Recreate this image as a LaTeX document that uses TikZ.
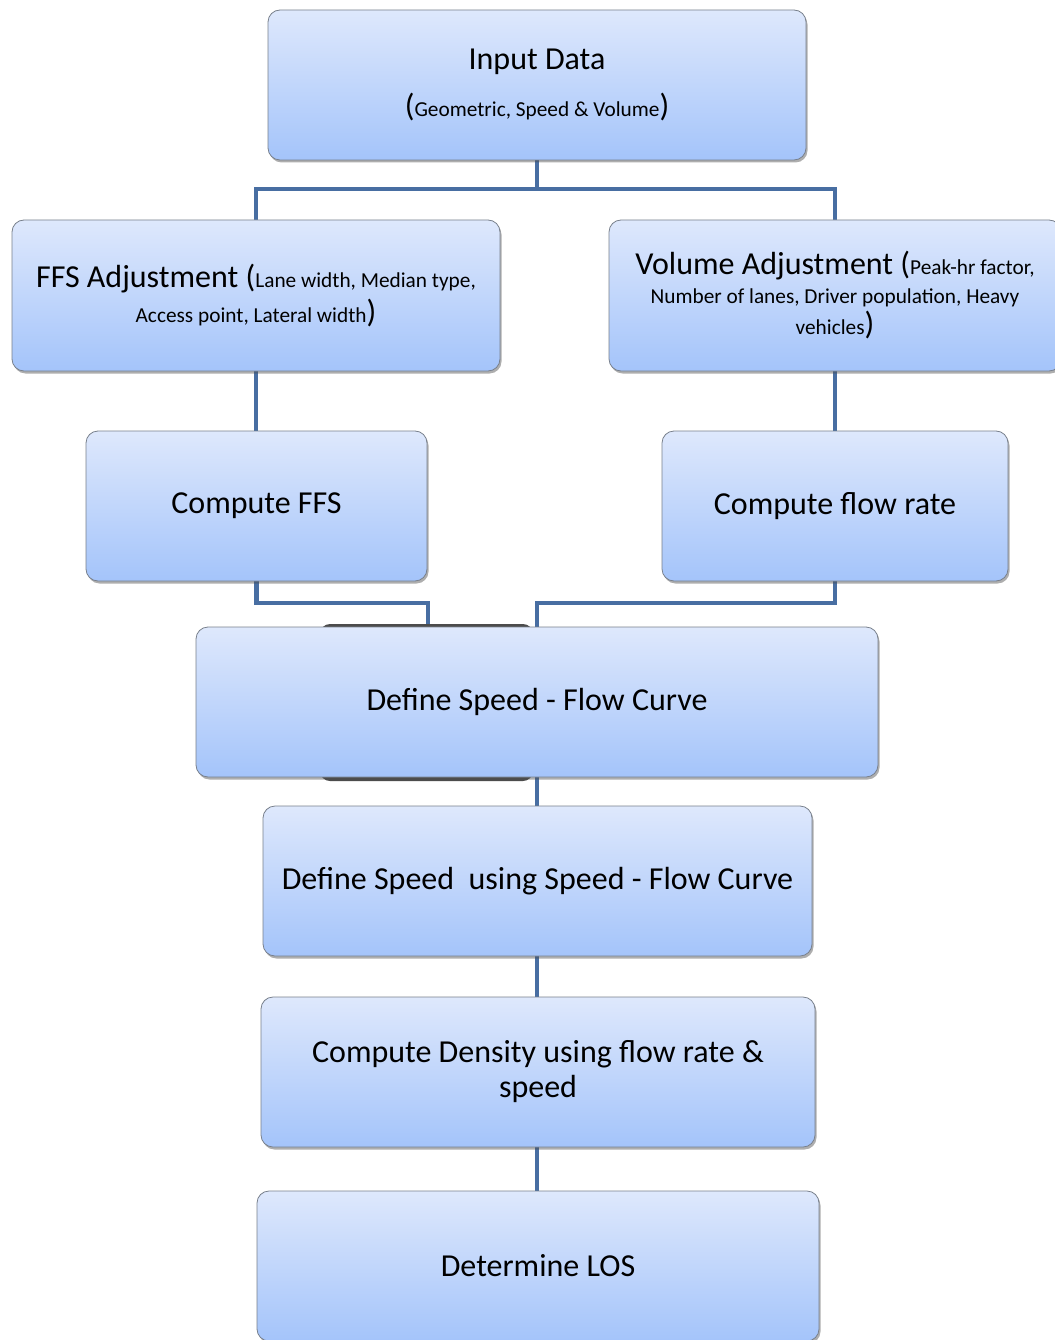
\documentclass[tikz,border=0pt]{standalone}
\usepackage{fontspec}
\setmainfont{Carlito}
\usetikzlibrary{shadows,backgrounds}
\definecolor{boxtop}{RGB}{222,232,252}
\definecolor{boxbot}{RGB}{164,196,250}
\definecolor{boxedge}{RGB}{120,128,140}
\definecolor{conncol}{RGB}{72,110,162}
\newcommand\BigTxt[1]{{\fontsize{32}{30}\selectfont #1}}
\tikzset{
  flowbox/.style={rectangle, rounded corners=12pt, draw=boxedge, line width=0.8pt,
    top color=boxtop, bottom color=boxbot, align=center, inner sep=0pt,
    font=\fontsize{32}{35}\selectfont,
    drop shadow={shadow xshift=1.5pt, shadow yshift=-2.5pt, opacity=0.45, fill=black!70}},
  smalltxt/.style={font=\fontsize{21.3}{30}\selectfont},
  conn/.style={draw=conncol, line width=4.5pt}
}
\begin{document}
\begin{tikzpicture}[x=1pt,y=-1pt]
\begin{scope}[on background layer]
\fill[white] (0,0) rectangle (1054,1340);
\end{scope}
\useasboundingbox (0,0) rectangle (1054,1340);
% artifact shadow behind Define Speed - Flow Curve
\fill[black!70, rounded corners=10pt] (320,624) rectangle (533,781);
\node[flowbox, minimum width=538pt, minimum height=150pt] (inp) at (537,85)
  {Input Data\\[12pt]{\fontsize{21.3}{24}\selectfont\BigTxt{(}Geometric, Speed \& Volume\BigTxt{)}}};
\node[flowbox, smalltxt, minimum width=488pt, minimum height=151pt] (ffsadj) at (256,295.5)
  {\BigTxt{FFS Adjustment (}Lane width, Median type,\\[5pt]Access point, Lateral width\BigTxt{)}};
\node[flowbox, smalltxt, minimum width=452pt, minimum height=151pt] (voladj) at (835,295.5)
  {\BigTxt{Volume Adjustment (}Peak-hr factor,\\[-1pt]Number of lanes, Driver population, Heavy\\[1pt]vehicles\BigTxt{)}};
\node[flowbox, minimum width=341pt, minimum height=150pt] (cffs) at (256.5,506) {Compute FFS};
\node[flowbox, minimum width=346pt, minimum height=150pt] (cflow) at (835,506) {Compute flow rate};
\node[flowbox, minimum width=682pt, minimum height=150pt] (dsfc) at (537,702) {Define Speed - Flow Curve};
\node[flowbox, minimum width=549pt, minimum height=150pt] (dsu) at (537.5,881) {Define Speed\ \ using Speed - Flow Curve};
\node[flowbox, minimum width=554pt, minimum height=150pt] (cden) at (538,1072) {Compute Density using flow rate \&\\speed};
\node[flowbox, minimum width=562pt, minimum height=150pt] (los) at (538,1266) {Determine LOS};
\coordinate (jtop) at (537,189);
\coordinate (jl) at (428,603);
\coordinate (jr) at (537,603);
\begin{scope}[on background layer]
\draw[conn] (inp.south) -- (jtop);
\draw[conn] (ffsadj.north) |- (jtop) -| (voladj.north);
\draw[conn] (ffsadj.south) -- (ffsadj.south |- cffs.north);
\draw[conn] (voladj.south) -- (voladj.south |- cflow.north);
\draw[conn] (cffs.south) |- (jl) -- (jl |- dsfc.north);
\draw[conn] (cflow.south) |- (jr) -- (dsfc.north);
\draw[conn] (dsfc.south) -- (dsu.north -| dsfc.south);
\draw[conn] (dsu.south -| dsfc.south) -- (cden.north -| dsfc.south);
\draw[conn] (cden.south -| dsfc.south) -- (los.north -| dsfc.south);
\end{scope}
\end{tikzpicture}
\end{document}
